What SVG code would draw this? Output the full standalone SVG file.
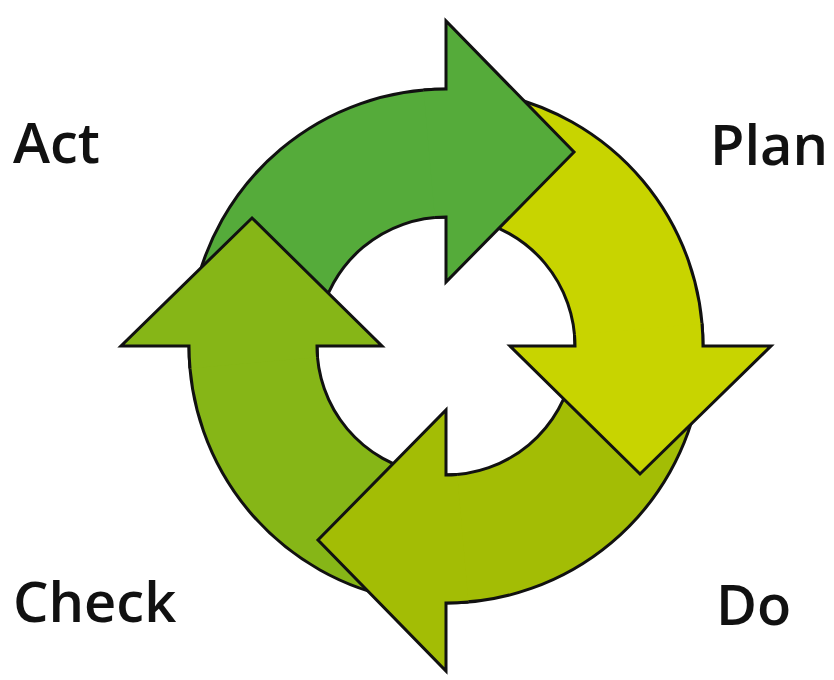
<svg xmlns="http://www.w3.org/2000/svg" width="834" height="680" viewBox="0 0 834 680">
<style>
.ol{stroke:#111;stroke-width:3;stroke-linejoin:miter;stroke-miterlimit:10}
.lbl{font-family:"Open Sans","Liberation Sans",sans-serif;font-size:56px;font-weight:600;fill:#111}
.act{fill:#55AB3A}.plan{fill:#C8D400}.do{fill:#A3BD05}.check{fill:#86B617}
</style>
<defs>
<path id="shaft" d="M446,89 A257,257 0 0 0 192.9,301.4 L319,323.6 A129,129 0 0 1 446,217"/>
<path id="head" d="M423.6,90 A257,257 0 0 1 446,89 L446,21 L574,152 L446,282 L446,217 A129,129 0 0 0 434.8,217.5"/>
</defs>
<rect width="834" height="680" fill="#fff"/>
<g id="connectors">
<g id="shafts">
<use href="#shaft" class="ol act"/>
<use href="#shaft" class="ol plan" transform="rotate(90 446 346)"/>
<use href="#shaft" class="ol do" transform="rotate(180 446 346)"/>
<use href="#shaft" class="ol check" transform="rotate(270 446 346)"/>
</g>
</g>
<g id="act-arrow"><use href="#head" class="ol act"/></g>
<g id="plan-arrow"><use href="#head" class="ol plan" transform="rotate(90 446 346)"/></g>
<g id="do-arrow"><use href="#head" class="ol do" transform="rotate(180 446 346)"/></g>
<g id="check-arrow"><use href="#head" class="ol check" transform="rotate(270 446 346)"/></g>
<g id="label-act"><text class="lbl" x="13" y="163">Act</text></g>
<g id="label-plan"><text class="lbl" x="710" y="165">Plan</text></g>
<g id="label-check"><text class="lbl" x="13" y="622">Check</text></g>
<g id="label-do"><text class="lbl" x="716" y="625">Do</text></g>
</svg>
